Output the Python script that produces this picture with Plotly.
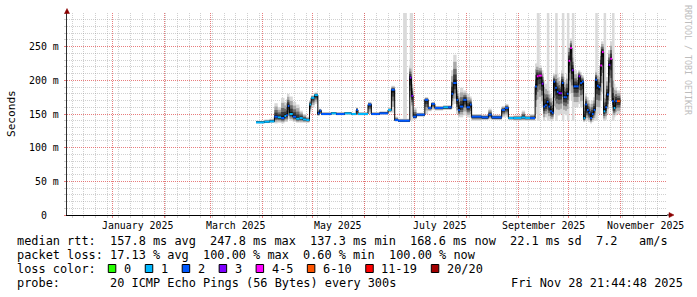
import plotly.graph_objects as go
import pandas as pd

# ------------------------------------------------------------------ data
sample_dates = [
    "2025-03-28", "2025-04-02", "2025-04-05",
    "2025-04-08", "2025-04-10", "2025-04-12", "2025-04-14", "2025-04-15", "2025-04-16",
    "2025-04-17", "2025-04-19", "2025-04-21", "2025-04-23", "2025-04-25", "2025-04-27",
    "2025-04-29", "2025-04-30", "2025-05-02", "2025-05-04", "2025-05-05",
    "2025-05-06", "2025-05-12", "2025-05-15", "2025-05-20", "2025-05-24", "2025-05-27",
    "2025-05-28", "2025-06-03",
    "2025-06-05", "2025-06-10", "2025-06-15", "2025-06-17", "2025-06-19", "2025-06-21",
    "2025-06-28", "2025-06-29", "2025-06-30",
    "2025-07-02", "2025-07-07", "2025-07-09", "2025-07-11", "2025-07-13", "2025-07-18",
    "2025-07-21", "2025-07-23", "2025-07-24", "2025-07-26", "2025-07-27", "2025-07-28",
    "2025-07-30", "2025-08-01", "2025-08-03", "2025-08-04", "2025-08-10", "2025-08-14",
    "2025-08-16", "2025-08-22", "2025-08-24", "2025-08-26", "2025-08-29", "2025-09-03",
    "2025-09-05", "2025-09-08",
    "2025-09-11", "2025-09-12", "2025-09-13", "2025-09-15", "2025-09-16", "2025-09-17",
    "2025-09-18", "2025-09-19", "2025-09-20", "2025-09-21", "2025-09-22", "2025-09-23",
    "2025-09-24", "2025-09-25", "2025-09-26", "2025-09-27", "2025-09-28", "2025-09-29",
    "2025-09-30", "2025-10-01", "2025-10-02", "2025-10-03", "2025-10-04", "2025-10-06",
    "2025-10-07", "2025-10-08", "2025-10-09", "2025-10-10", "2025-10-11", "2025-10-12",
    "2025-10-13", "2025-10-14", "2025-10-15", "2025-10-16", "2025-10-17", "2025-10-18",
    "2025-10-19", "2025-10-20", "2025-10-21", "2025-10-22", "2025-10-23", "2025-10-24",
    "2025-10-25", "2025-10-26", "2025-10-27", "2025-10-28", "2025-10-29", "2025-10-30",
]
data_end = "2025-11-01"

median_ms = [
    137.5, 138.5, 139,
    146, 145, 144, 147, 148, 162,
    150, 146, 143, 144, 142, 141,
    164, 174, 178, 151, 155,
    150, 151, 150, 151, 150, 156,
    150, 164,
    150, 151, 156, 186, 141, 140,
    204, 177, 146,
    149, 171, 159, 165, 159, 160,
    160, 180, 196, 171, 156, 161,
    171, 160, 164, 146, 145, 149,
    145, 156, 159, 144, 144, 145,
    144, 144,
    191, 206, 207, 195, 161, 163,
    168, 161, 154, 152, 198, 189,
    183, 181, 181, 196, 175, 175,
    180, 229, 248, 215, 191, 191,
    206, 196, 198, 144, 164, 156,
    152, 144, 150, 156, 201, 192,
    190, 222, 242, 154, 160, 179,
    223, 232, 169, 159, 169, 169,
]

loss_idx = [
    1, 1, 1,
    2, 1, 2, 1, 2, 2,
    1, 2, 1, 1, 1, 1,
    1, 1, 1, 2, 2,
    2, 1, 2, 1, 1, 2,
    1, 2,
    2, 2, 1, 2, 2, 2,
    3, 3, 2,
    2, 2, 2, 2, 2, 1,
    2, 2, 2, 2, 2, 2,
    2, 2, 2, 2, 2, 2,
    2, 2, 2, 1, 1, 1,
    1, 2,
    2, 4, 4, 3, 2, 2,
    2, 2, 2, 2, 2, 2,
    2, 3, 3, 2, 2, 2,
    2, 4, 4, 3, 2, 2,
    3, 2, 2, 1, 2, 2,
    2, 2, 2, 2, 2, 2,
    2, 4, 4, 1, 2, 2,
    3, 4, 2, 1, 2, 5,
]

smoke_lo_ms = [
    136, 136.5, 137,
    136, 137, 136, 138, 138, 142,
    140, 138, 137, 137, 137, 137,
    150, 160, 165, 147, 150,
    148, 149, 148, 149, 148, 150,
    148, 150,
    148, 149, 152, 152, 139, 138,
    165, 158, 142,
    146, 150, 154, 156, 155, 156,
    156, 158, 165, 150, 145, 145,
    148, 145, 145, 140, 141, 142,
    141, 145, 146, 141, 140, 140,
    140, 140,
    150, 160, 165, 160, 140, 145,
    145, 142, 140, 140, 150, 150,
    148, 148, 150, 155, 150, 148,
    150, 170, 180, 170, 160, 160,
    165, 160, 160, 138, 140, 140,
    138, 136, 138, 140, 150, 150,
    150, 170, 180, 140, 142, 150,
    170, 175, 150, 145, 148, 150,
]

smoke_hi_ms = [
    140, 142, 143,
    166, 160, 174, 168, 172, 180,
    176, 168, 164, 155, 150, 146,
    170, 178, 182, 156, 158,
    153, 153, 153, 153, 152, 160,
    153, 168,
    153, 154, 159, 192, 146, 143,
    222, 200, 160,
    152, 175, 162, 168, 162, 163,
    163, 215, 238, 190, 180, 189,
    185, 180, 176, 150, 149, 158,
    149, 162, 165, 147, 148, 155,
    148, 150,
    225, 225, 222, 215, 200, 195,
    190, 185, 180, 175, 210, 215,
    210, 205, 200, 215, 205, 200,
    210, 255, 262, 240, 215, 210,
    215, 212, 208, 165, 180, 175,
    170, 165, 170, 175, 215, 212,
    205, 250, 258, 180, 185, 205,
    245, 258, 210, 195, 190, 185,
]

full_loss_start = ["2025-06-24 00:00", "2025-06-28 00:00", "2025-09-12 00:00",
                   "2025-09-18 00:00", "2025-09-23 00:00", "2025-09-27 00:00",
                   "2025-09-30 00:00", "2025-10-03 00:00", "2025-10-17 00:00",
                   "2025-10-22 00:00", "2025-10-27 00:00"]
full_loss_end = ["2025-06-26 06:00", "2025-06-30 00:00", "2025-09-13 18:00",
                 "2025-09-19 12:00", "2025-09-24 12:00", "2025-09-28 12:00",
                 "2025-10-01 12:00", "2025-10-04 12:00", "2025-10-18 12:00",
                 "2025-10-23 12:00", "2025-10-28 12:00"]
full_loss_base_ms = 140

loss_labels = ["0", "1", "2", "3", "4-5", "6-10", "11-19", "20/20"]
loss_colors = ["#26ff00", "#00b8ff", "#0059ff", "#7e00ff", "#ff00ff", "#ff5500",
               "#ff0000", "#a10000"]

y_tick_vals = [0, 50, 100, 150, 200, 250]
y_tick_text = ["0", "50 m", "100 m", "150 m", "200 m", "250 m"]
y_minor_vals = [v for v in range(10, 301, 10) if v % 50 != 0] + [300]

x_label_months = ["2025-01-01", "2025-03-01", "2025-05-01", "2025-07-01",
                  "2025-09-01", "2025-11-01"]
x_label_text = ["January 2025", "March 2025", "May 2025", "July 2025",
                "September 2025", "November 2025"]
month_starts = ["2025-01-01", "2025-02-01", "2025-03-01", "2025-04-01", "2025-05-01",
                "2025-06-01", "2025-07-01", "2025-08-01", "2025-09-01", "2025-10-01",
                "2025-11-01"]

x_start = "2024-12-04 21:44:48"
x_end = "2025-11-28 21:44:48"

legend_rtt = [("median rtt:", 0), ("157.8 ms avg", 13), ("247.8 ms max", 27),
              ("137.3 ms min", 41), ("168.6 ms now", 55), ("22.1 ms sd", 69),
              ("7.2", 81), ("am/s", 87)]
legend_loss = [("packet loss:", 0), ("17.13 % avg", 13), ("100.00 % max", 26),
               ("0.60 % min", 40), ("100.00 % now", 52)]
legend_probe = [("probe:", 0), ("20 ICMP Echo Pings (56 Bytes) every 300s", 13)]
legend_color_title = "loss color:"
timestamp_text = "Fri Nov 28 21:44:48 2025"

# ------------------------------------------------------------------ geometry
W, H = 697, 297
PL, PR, PT, PB = 67, 667, 13, 215
FONT = "DejaVu Sans Mono"
CH = 7.15          # legend character advance
LFS = 11.9         # legend font size
AFS = 9.9          # axis font size


def pxx(px):
    return (px - PL) / (PR - PL)


def pxy(py):
    return (PB - py) / (PB - PT)


t = pd.to_datetime(sample_dates)
t_next = pd.DatetimeIndex(list(t[1:]) + [pd.Timestamp(data_end)])
dur = t_next - t
mid = t + dur / 2
width_ms = dur.total_seconds() * 1000

fig = go.Figure()

# full-loss light columns
fs = pd.to_datetime(full_loss_start, format="%Y-%m-%d %H:%M")
fe = pd.to_datetime(full_loss_end, format="%Y-%m-%d %H:%M")
fig.add_trace(go.Bar(
    x=fs + (fe - fs) / 2, width=(fe - fs).total_seconds() * 1000,
    base=[full_loss_base_ms] * len(fs), y=[300 - full_loss_base_ms] * len(fs),
    marker=dict(color="#dadada", line=dict(width=0)), hoverinfo="skip"))

# smoke layers
layers = [(1.0, "#d8d8d8"), (0.75, "#a8a8a8"), (0.5, "#6c6c6c"), (0.3, "#3a3a3a"),
          (0.12, "#151515")]
for f, col in layers:
    lo = [m - (m - l) * f for m, l in zip(median_ms, smoke_lo_ms)]
    hi = [m + (h - m) * f for m, h in zip(median_ms, smoke_hi_ms)]
    fig.add_trace(go.Bar(
        x=mid, width=width_ms, base=lo, y=[h - l for h, l in zip(hi, lo)],
        marker=dict(color=col, line=dict(width=0)), hoverinfo="skip"))

# median step line (black connectors)
fig.add_trace(go.Scatter(
    x=list(t) + [pd.Timestamp(data_end)], y=median_ms + [median_ms[-1]],
    mode="lines", line=dict(color="#000000", width=1, shape="hv"), hoverinfo="skip"))

# median coloured by loss
for k, col in enumerate(loss_colors):
    xs, ys = [], []
    for a, b, m, li in zip(t, t_next, median_ms, loss_idx):
        if li == k:
            xs += [a, b, None]
            ys += [m, m, None]
    if xs:
        fig.add_trace(go.Scatter(x=xs, y=ys, mode="lines",
                                 line=dict(color=col, width=2), hoverinfo="skip"))

ann = []


def text(px, baseline, s, size, anchor="left", color="#000000", angle=0):
    ann.append(dict(xref="paper", yref="paper", x=pxx(px), y=pxy(baseline - 0.346 * size),
                    xanchor=anchor, yanchor="middle", text=s, showarrow=False,
                    font=dict(family=FONT, size=size, color=color), borderpad=0,
                    textangle=angle))


# y tick labels
for v, s in zip(y_tick_vals, y_tick_text):
    right = 48 if s == "0" else 60
    ann.append(dict(xref="paper", yref="y", x=pxx(right), y=v, xanchor="right",
                    yanchor="middle", text=s, showarrow=False, borderpad=0,
                    font=dict(family=FONT, size=AFS, color="#000000")))

# x labels (centered half a month after the month start)
for m, s in zip(x_label_months, x_label_text):
    pos = pd.Timestamp(m) + pd.Timedelta(days=15)
    ann.append(dict(xref="x", yref="paper", x=pos, y=pxy(228.8 - 0.346 * AFS),
                    xanchor="center", yanchor="middle", text=s, showarrow=False,
                    borderpad=0, font=dict(family=FONT, size=AFS, color="#000000")))

# axis title and watermark
ann.append(dict(xref="paper", yref="paper", x=pxx(11), y=pxy(114), text="Seconds",
                textangle=-90, showarrow=False, xanchor="center", yanchor="middle",
                font=dict(family=FONT, size=11.1, color="#000000")))
ann.append(dict(xref="paper", yref="paper", x=pxx(688), y=pxy(60),
                text="RRDTOOL / TOBI OETIKER", textangle=90, showarrow=False,
                xanchor="center", yanchor="middle",
                font=dict(family=FONT, size=8.3, color="#bdbdbd")))

# legend text
x0 = 16
for s, c in legend_rtt:
    text(x0 + c * CH, 245.2, s, LFS)
for s, c in legend_loss:
    text(x0 + c * CH, 259.2, s, LFS)
text(x0, 273.2, legend_color_title, LFS)
for s, c in legend_probe:
    text(x0 + c * CH, 287.3, s, LFS)
text(684, 287.3, timestamp_text, LFS, anchor="right")

shapes = []
bx = 108.3
for lab, col in zip(loss_labels, loss_colors):
    shapes.append(dict(type="rect", xref="paper", yref="paper",
                       x0=pxx(bx), x1=pxx(bx + 7.5), y0=pxy(264.5), y1=pxy(272.5),
                       fillcolor=col, line=dict(color="#000000", width=1)))
    text(bx + 14.6, 273.2, lab, LFS)
    bx += 14.6 + len(lab) * CH + 15.2

# axis arrows
arrow = "#8b0000"
shapes.append(dict(type="line", xref="paper", yref="paper", x0=pxx(667), x1=pxx(670),
                   y0=pxy(215), y1=pxy(215), line=dict(color="#000000", width=1)))
shapes.append(dict(type="path", xref="paper", yref="paper",
                   path=f"M {pxx(669)},{pxy(212.5)} L {pxx(674)},{pxy(215)} "
                        f"L {pxx(669)},{pxy(217.5)} Z",
                   fillcolor=arrow, line=dict(color=arrow, width=0.5)))
shapes.append(dict(type="path", xref="paper", yref="paper",
                   path=f"M {pxx(64.5)},{pxy(13.5)} L {pxx(67)},{pxy(8.5)} "
                        f"L {pxx(69.5)},{pxy(13.5)} Z",
                   fillcolor=arrow, line=dict(color=arrow, width=0.5)))

grid_minor = "rgba(143,143,143,0.42)"
grid_major = "rgba(222,70,70,0.7)"

fig.update_layout(
    width=W, height=H, margin=dict(l=PL, r=W - PR, t=PT, b=H - PB, autoexpand=False),
    paper_bgcolor="#ffffff", plot_bgcolor="#ffffff", showlegend=False,
    barmode="overlay", annotations=ann, shapes=shapes,
    xaxis=dict(type="date", range=[x_start, x_end], tickmode="array",
               tickvals=month_starts, showticklabels=False, showgrid=True,
               gridcolor=grid_major, griddash="1px,1px", gridwidth=1,
               ticks="outside", ticklen=2, tickcolor=grid_major,
               showline=True, linecolor="#000000", linewidth=1, zeroline=False,
               automargin=False, fixedrange=True,
               minor=dict(tick0="2024-12-08", dtick=7 * 86400000, showgrid=True,
                          gridcolor=grid_minor, griddash="1px,1px", gridwidth=1,
                          ticks="outside", ticklen=2, tickcolor=grid_minor)),
    yaxis=dict(range=[0, 300], tickmode="array", tickvals=y_tick_vals,
               showticklabels=False, showgrid=True, gridcolor=grid_major,
               griddash="1px,1px", gridwidth=1, ticks="outside", ticklen=2,
               tickcolor=grid_major, showline=True, linecolor="#303030", linewidth=1,
               zeroline=False, automargin=False, fixedrange=True,
               minor=dict(tickmode="array", tickvals=y_minor_vals, showgrid=True,
                          gridcolor=grid_minor, griddash="1px,1px", gridwidth=1,
                          ticks="outside", ticklen=2, tickcolor=grid_minor)),
)

fig.write_html("out.html")
